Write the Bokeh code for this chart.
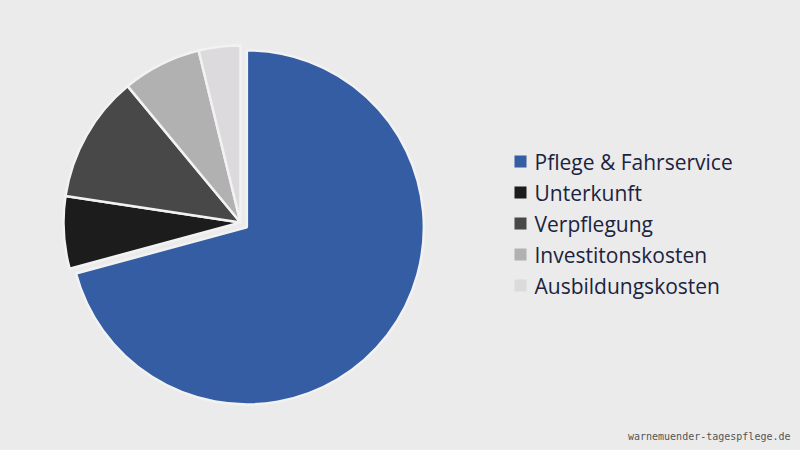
import math
from bokeh.plotting import figure
from bokeh.models import ColumnDataSource
from bokeh.core.properties import value
from bokeh.embed import file_html
from bokeh.resources import INLINE

categories = ["Pflege & Fahrservice", "Unterkunft", "Verpflegung", "Investitonskosten", "Ausbildungskosten"]
shares = [70.8, 6.6, 11.6, 7.2, 3.8]
colors = ["#355da3", "#1d1c1d", "#484848", "#b1b1b1", "#dcdadc"]
explode = [8, 0, 0, 0, 0]
watermark = "warnemuender-tagespflege.de"

W, H = 800, 450
BG = "#ebebeb"
cx, cy, R = 240, 228, 177

total = sum(shares)
starts, ends, xs, ys = [], [], [], []
acc = 0.0
for s, e in zip(shares, explode):
    a0 = math.pi / 2 - 2 * math.pi * acc / total
    a1 = math.pi / 2 - 2 * math.pi * (acc + s) / total
    mid = (a0 + a1) / 2
    starts.append(a1)
    ends.append(a0)
    xs.append(cx + e * math.cos(mid))
    ys.append(cy + e * math.sin(mid))
    acc += s

src = ColumnDataSource(dict(x=xs, y=ys, start=starts, end=ends, color=colors, label=categories))

p = figure(width=W, height=H, x_range=(0, W), y_range=(0, H), output_backend="svg",
           toolbar_location=None, min_border=0, background_fill_color=BG,
           border_fill_color=BG, outline_line_color=None)
p.axis.visible = False
p.grid.visible = False

p.wedge(x="x", y="y", radius=R, start_angle="start", end_angle="end", source=src,
        fill_color="color", line_color="#f2f2f2", line_width=2.5)

lx, ly0, dy = 520, 289, 31
leg = ColumnDataSource(dict(
    mx=[lx] * len(categories),
    tx=[lx + 14] * len(categories),
    y=[ly0 - i * dy for i in range(len(categories))],
    color=colors, label=categories))
p.scatter(x="mx", y="y", source=leg, marker="square", size=12, fill_color="color", line_color=None)
p.text(x="tx", y="y", text="label", source=leg, text_font=value("Open Sans"),
       text_font_size="21px", text_color="#1c2340", text_baseline="middle", text_align="left")

p.text(x=[790], y=[14], text=[watermark], text_font=value("DejaVu Sans Mono"),
       text_font_size="10px", text_color="#555555", text_align="right", text_baseline="middle")

html = file_html(p, INLINE)
html = html.replace("<head>", "<head><style>html,body{margin:0;padding:0;background:%s;overflow:hidden}</style>" % BG, 1)
open("out.html", "w").write(html)
